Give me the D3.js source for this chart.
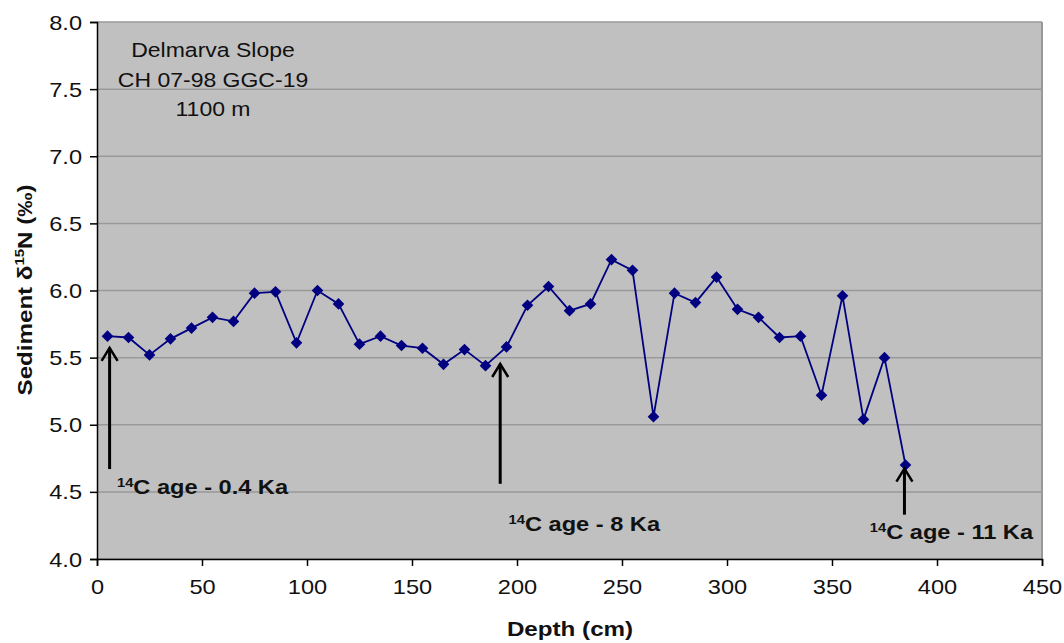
<!DOCTYPE html>
<html>
<head>
<meta charset="utf-8">
<script src="https://cdn.jsdelivr.net/npm/d3@7"></script>
<style>
body{margin:0;background:#fff}
text{font-family:"Liberation Sans",Arial,sans-serif;fill:#111}
</style>
</head>
<body>
<svg width="1064" height="643"></svg>
<script>
// depth (cm) and sediment d15N (permil)
var depths = [5,15,25,35,45,55,65,75,85,95,105,115,125,135,145,155,165,175,185,195,
              205,215,225,235,245,255,265,275,285,295,305,315,325,335,345,355,365,375,385];
var d15N = [5.66,5.65,5.52,5.64,5.72,5.80,5.77,5.98,5.99,5.61,6.00,5.90,5.60,5.66,5.59,5.57,5.45,5.56,5.44,5.58,
            5.89,6.03,5.85,5.90,6.23,6.15,5.06,5.98,5.91,6.10,5.86,5.80,5.65,5.66,5.22,5.96,5.04,5.50,4.70];
var xTicks = [0,50,100,150,200,250,300,350,400,450];
var yTicks = [4.0,4.5,5.0,5.5,6.0,6.5,7.0,7.5,8.0];
var titleLines = ["Delmarva Slope","CH 07-98 GGC-19","1100 m"];

// radiocarbon age markers
var arrowDepth = [6,192,384.5];
var arrowTip = [5.58,5.46,4.68];
var arrowTail = [4.67,4.56,4.33];
var ageText = ["0.4 Ka","8 Ka","11 Ka"];
var ageLabelDepth = [9.5,196,368];
var ageLabelValue = [4.485,4.205,4.15];

function main(){
    var svg = d3.select("svg"),
        left = 97, top = 22,
        width = 945, height = 537,
        sx = 1.18;

    var xScale = d3.scaleLinear().domain([0,450]).range([0,width]),
        yScale = d3.scaleLinear().domain([4,8]).range([height,0]);

    var g = svg.append("g").attr("transform","translate("+left+","+top+")");

    g.append("rect").attr("width",width).attr("height",height).attr("fill","#c0c0c0");

    // grid
    g.selectAll(".grid").data(yTicks).enter().append("line")
        .attr("x1",0).attr("x2",width)
        .attr("y1",function(d){return yScale(d);}).attr("y2",function(d){return yScale(d);})
        .attr("stroke","#999").attr("stroke-width",1.5);
    g.append("line").attr("x1",width).attr("x2",width).attr("y1",0).attr("y2",height)
        .attr("stroke","#999").attr("stroke-width",2);

    // axes
    var xAxis = g.append("g").attr("transform","translate(0,"+height+")")
        .call(d3.axisBottom(xScale).tickValues(xTicks).tickSize(7).tickPadding(14).tickFormat(d3.format("d")));
    var yAxis = g.append("g")
        .call(d3.axisLeft(yScale).tickValues(yTicks).tickSize(7).tickPadding(8).tickFormat(d3.format(".1f")));
    [xAxis,yAxis].forEach(function(a){
        a.select(".domain").attr("stroke","#000").attr("stroke-width",1.5);
        a.selectAll(".tick line").attr("stroke","#000").attr("stroke-width",1.5);
        a.selectAll(".tick text").attr("font-size",20).attr("fill","#111")
            .style("font-family","Liberation Sans, Arial, sans-serif");
    });
    xAxis.selectAll(".tick text").attr("transform","scale("+sx+",1)")
        .attr("x",0).attr("dy","0.71em");
    yAxis.selectAll(".tick text").attr("transform","scale("+sx+",1)")
        .attr("x",-15/sx).attr("dy","0.35em");

    // series
    var line = d3.line()
        .x(function(d,i){return xScale(depths[i]);})
        .y(function(d){return yScale(d);});
    g.append("path").datum(d15N).attr("d",line)
        .attr("fill","none").attr("stroke","#000080").attr("stroke-width",1.8);
    g.selectAll(".pt").data(d15N).enter().append("path")
        .attr("d",d3.symbol().type(d3.symbolSquare).size(68))
        .attr("transform",function(d,i){return "translate("+xScale(depths[i])+","+yScale(d)+") rotate(45)";})
        .attr("fill","#000080");

    // arrows
    arrowDepth.forEach(function(dp,i){
        var x = xScale(dp), y1 = yScale(arrowTip[i]), y2 = yScale(arrowTail[i]);
        g.append("line").attr("x1",x).attr("x2",x).attr("y1",y1+1).attr("y2",y2)
            .attr("stroke","#000").attr("stroke-width",3);
        g.append("path").attr("d","M"+(x-8)+","+(y1+14)+"L"+x+","+(y1+1)+"L"+(x+8)+","+(y1+14))
            .attr("fill","none").attr("stroke","#000").attr("stroke-width",2.5);

        var t = g.append("text")
            .attr("transform","translate("+xScale(ageLabelDepth[i])+","+yScale(ageLabelValue[i])+") scale("+sx+",1)")
            .attr("font-size",20).attr("font-weight","bold");
        t.append("tspan").attr("font-size",12.5).attr("dy",-7).text("14");
        t.append("tspan").attr("dy",7).text("C age - "+ageText[i]);
    });

    // title box
    g.selectAll(".title").data(titleLines).enter().append("text")
        .attr("transform",function(d,i){return "translate("+(116)+","+(35+i*29.5)+") scale("+sx+",1)";})
        .attr("text-anchor","middle").attr("font-size",19.5)
        .text(function(d){return d;});

    // axis titles
    svg.append("text")
        .attr("transform","translate(570,636) scale("+sx+",1)")
        .attr("text-anchor","middle").attr("font-size",20.5).attr("font-weight","bold")
        .text("Depth (cm)");

    var yl = svg.append("text")
        .attr("transform","translate(32,290) rotate(-90) scale(1.15,1)")
        .attr("text-anchor","middle").attr("font-size",21).attr("font-weight","bold");
    yl.append("tspan").text("Sediment \u03b4");
    yl.append("tspan").attr("font-size",13).attr("dy",-8).text("15");
    yl.append("tspan").attr("dy",8).text("N (\u2030)");
}
main();
</script>
</body>
</html>
